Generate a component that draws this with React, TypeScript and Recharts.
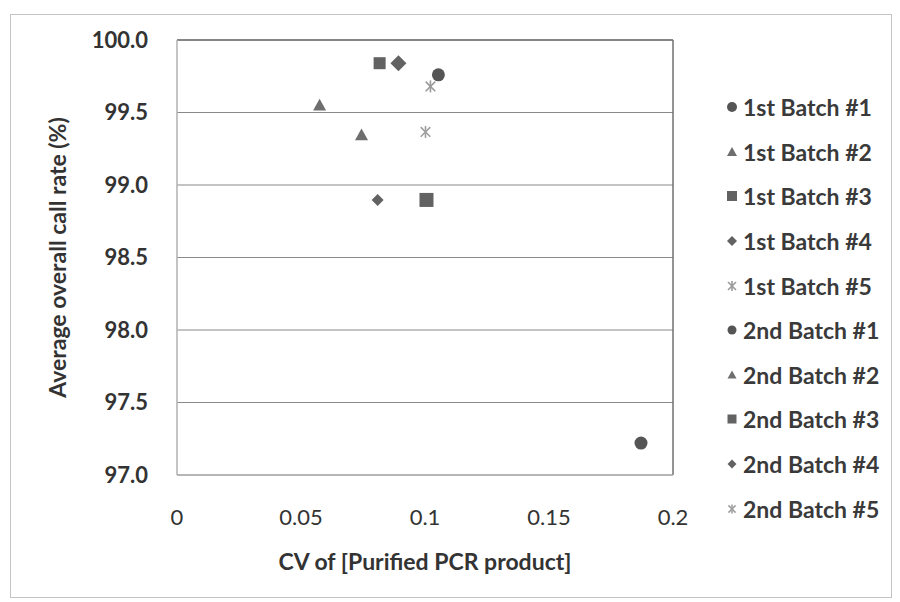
import React from 'react';
import { ScatterChart, Scatter, XAxis, YAxis, CartesianGrid, Legend, ReferenceLine } from 'recharts';

const seriesNames = [
  '1st Batch #1', '1st Batch #2', '1st Batch #3', '1st Batch #4', '1st Batch #5',
  '2nd Batch #1', '2nd Batch #2', '2nd Batch #3', '2nd Batch #4', '2nd Batch #5',
];
const cvValues = [0.1054, 0.0575, 0.0817, 0.0893, 0.1022, 0.1871, 0.0744, 0.1006, 0.0809, 0.1002];
const callRates = [99.76, 99.55, 99.84, 99.84, 99.68, 97.22, 99.345, 98.897, 98.897, 99.366];
const markerTypes = ['circle', 'triangle', 'square', 'diamond', 'star', 'circle', 'triangle', 'square', 'diamond', 'star'];
const markerSizes = [13, 13, 12, 16, 12, 13, 13, 14, 12, 12];
const markerColors = ['#555555', '#6e6e6e', '#626262', '#626262', '#9a9a9a', '#555555', '#6e6e6e', '#626262', '#626262', '#a0a0a0'];

const xTicks = [0, 0.05, 0.1, 0.15, 0.2];
const yTicks = [97, 97.5, 98, 98.5, 99, 99.5, 100];

const FONT = 'Lato, "Open Sans", sans-serif';

function drawMarker(type: string, cx: number, cy: number, s: number, color: string) {
  const h = s / 2;
  if (type === 'circle') return <circle cx={cx} cy={cy} r={h} fill={color} />;
  if (type === 'square') return <rect x={cx - h} y={cy - h} width={s} height={s} fill={color} />;
  if (type === 'triangle')
    return <path d={`M${cx},${cy - h} L${cx + h},${cy + h * 0.8} L${cx - h},${cy + h * 0.8} Z`} fill={color} />;
  if (type === 'diamond')
    return <path d={`M${cx},${cy - h} L${cx + h},${cy} L${cx},${cy + h} L${cx - h},${cy} Z`} fill={color} />;
  const d = h * 0.8;
  return (
    <g stroke={color} strokeWidth={1.6}>
      <line x1={cx - d} y1={cy - d} x2={cx + d} y2={cy + d} />
      <line x1={cx - d} y1={cy + d} x2={cx + d} y2={cy - d} />
      <line x1={cx} y1={cy - h} x2={cx} y2={cy + h} />
    </g>
  );
}

const makeShape = (i: number) => (props: any) => {
  const { cx, cy } = props;
  if (cx == null || cy == null) return <g />;
  return drawMarker(markerTypes[i], cx, cy, markerSizes[i], markerColors[i]);
};

const LegendContent = () => (
  <div style={{ fontFamily: FONT }}>
    {seriesNames.map((name, i) => (
      <div key={name} style={{ height: 44.6, display: 'flex', alignItems: 'center' }}>
        <svg width={14} height={14} style={{ marginRight: 4, flex: 'none' }}>
          {drawMarker(markerTypes[i], 7, 7, i < 5 ? 10 : 9, markerColors[i])}
        </svg>
        <span style={{ fontSize: 23, fontWeight: 700, color: '#3a3a3a', whiteSpace: 'nowrap' }}>{name}</span>
      </div>
    ))}
  </div>
);

export default function App() {
  return (
    <div style={{ position: 'absolute', left: 0, top: 0, width: 900, height: 602, background: '#fff' }}>
      <div
        style={{
          position: 'absolute', left: 10, top: 14, width: 882, height: 584,
          border: '1px solid #c4c4c4', boxSizing: 'border-box',
        }}
      />
      <ScatterChart width={900} height={602} margin={{ top: 40, right: 27, bottom: 27, left: 0 }}>
        <CartesianGrid horizontal vertical={false} stroke="#8a8a8a" strokeWidth={1.2} />
        <XAxis
          type="number"
          dataKey="x"
          domain={[0, 0.2]}
          ticks={xTicks}
          tickFormatter={(v: number) => String(v)}
          height={100}
          tickLine={false}
          tickSize={0}
          tickMargin={34}
          axisLine={{ stroke: '#b0b0b0', strokeWidth: 1.5 }}
          tick={{ fill: '#333', fontSize: 22, fontFamily: FONT }}
          label={{
            value: 'CV of [Purified PCR product]',
            position: 'insideBottom',
            offset: 5,
            style: { fill: '#333', fontSize: 23, fontWeight: 700, fontFamily: FONT },
          }}
        />
        <YAxis
          type="number"
          dataKey="y"
          domain={[97, 100]}
          ticks={yTicks}
          tickFormatter={(v: number) => v.toFixed(1)}
          width={177}
          tickLine={false}
          tickSize={0}
          tickMargin={29}
          axisLine={{ stroke: '#b0b0b0', strokeWidth: 1.5 }}
          tick={{ fill: '#333', fontSize: 22, fontWeight: 700, fontFamily: FONT }}
          label={{
            value: 'Average overall call rate (%)',
            angle: -90,
            position: 'insideLeft',
            offset: 58,
            style: { textAnchor: 'middle', fill: '#333', fontSize: 23, fontWeight: 700, fontFamily: FONT },
          }}
        />
        <ReferenceLine x={0.2} stroke="#707070" strokeWidth={1.5} />
        <ReferenceLine y={100} stroke="#707070" strokeWidth={1.5} />
        {seriesNames.map((name, i) => (
          <Scatter
            key={name}
            name={name}
            data={[{ x: cvValues[i], y: callRates[i] }]}
            shape={makeShape(i)}
            isAnimationActive={false}
          />
        ))}
        <Legend
          layout="vertical"
          verticalAlign="top"
          align="right"
          content={<LegendContent />}
          wrapperStyle={{ left: 725, top: 85, width: 200 }}
        />
      </ScatterChart>
    </div>
  );
}
